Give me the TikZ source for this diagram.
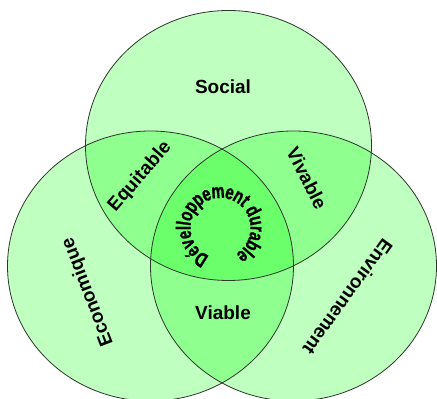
\documentclass[tikz,border=0pt]{standalone}
\usepackage{fontspec}
\setmainfont{Liberation Sans}
\newfontfamily\ringfont[FakeStretch=0.72,FakeBold=1]{Liberation Sans}
\usetikzlibrary{shapes.geometric}
\begin{document}
\begin{tikzpicture}[x=1pt,y=1pt,
  zone/.style={ellipse, inner sep=0pt, minimum width=286pt, minimum height=270pt,
    fill={rgb,255:red,0;green,255;blue,0}, fill opacity=0.25},
  rim/.style={draw={rgb,255:red,45;green,55;blue,45}, line width=0.8pt},
  lab/.style={font=\bfseries\fontsize{19}{19}\selectfont, inner sep=0pt},
  ringletter/.style={font=\ringfont\bfseries\fontsize{20.5}{20.5}\selectfont,
    inner sep=0pt, anchor=base}]
\useasboundingbox (0,0) rectangle (437,399);
\fill[white] (0,0) rectangle (437,399);
% three circles
\node[zone] (social) at (228.5,253.5) {};
\node[zone] (eco) at (150.5,133) {};
\node[zone] (env) at (293.5,133) {};
\draw[rim] (228.5,253.5) ellipse [x radius=143, y radius=135];
\draw[rim] (150.5,133) ellipse [x radius=143, y radius=135];
\draw[rim] (293.5,133) ellipse [x radius=143, y radius=135];
% labels
\node[lab] (tsocial) at (223,312) {Social};
\node[lab] (tviable) at (223,86) {Viable};
\node[lab, rotate=49] (tequit) at (140,222) {Equitable};
\node[lab, rotate=-63] (tvivable) at (307,221) {Vivable};
\node[lab, rotate=111] (teco) at (88,107) {Economique};
\node[lab, rotate=234] (tenv) at (348,102) {Environnement};
% centre: "Développement durable" set round a circle
\coordinate (ring) at (220.5,171);
\foreach \ch/\ang [count=\i] in {D/238, é/221, v/206, e/191, l/180, l/172.6,
    o/160.5, p/144.5, p/128.5, e/113, m/94, e/75.3, n/60, t/47.5,
    d/28, u/11.7, r/-1.5, a/-14, b/-29.3, l/-41, e/-52}
  \node[ringletter, rotate=\ang-90] (ch\i) at ([shift={(\ang:30)}]ring) {\ch};
\end{tikzpicture}
\end{document}
